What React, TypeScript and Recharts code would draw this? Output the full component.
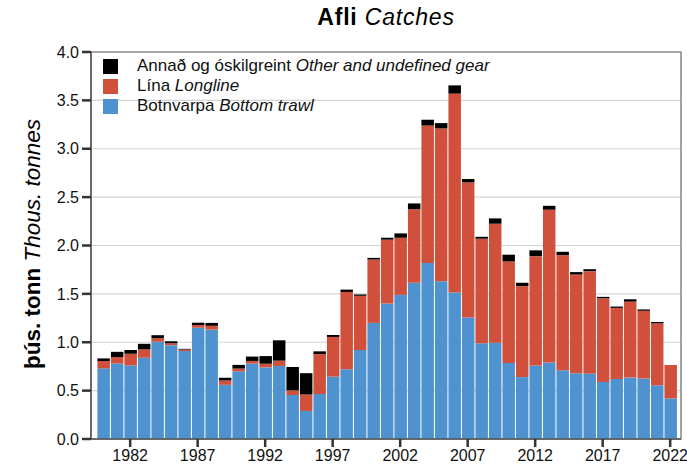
import React from 'react';
import { BarChart, Bar, XAxis, YAxis, CartesianGrid, ReferenceArea } from 'recharts';

const years = [
  1980, 1981, 1982, 1983, 1984, 1985, 1986, 1987, 1988, 1989,
  1990, 1991, 1992, 1993, 1994, 1995, 1996, 1997, 1998, 1999,
  2000, 2001, 2002, 2003, 2004, 2005, 2006, 2007, 2008, 2009,
  2010, 2011, 2012, 2013, 2014, 2015, 2016, 2017, 2018, 2019,
  2020, 2021, 2022,
];

const bottomTrawl = [
  0.73, 0.78, 0.76, 0.84, 1.005, 0.97, 0.91, 1.15, 1.13, 0.56,
  0.7, 0.78, 0.74, 0.755, 0.455, 0.29, 0.465, 0.645, 0.72, 0.92,
  1.2, 1.4, 1.49, 1.615, 1.82, 1.63, 1.515, 1.257, 0.99, 0.995,
  0.785, 0.64, 0.76, 0.79, 0.71, 0.68, 0.675, 0.59, 0.62, 0.635,
  0.625, 0.555, 0.42,
];

const longline = [
  0.076, 0.066, 0.12, 0.086, 0.037, 0.02, 0.015, 0.028, 0.04, 0.045,
  0.028, 0.027, 0.038, 0.055, 0.048, 0.17, 0.413, 0.41, 0.8, 0.56,
  0.655, 0.66, 0.59, 0.76, 1.42, 1.58, 2.055, 1.395, 1.08, 1.23,
  1.05, 0.94, 1.13, 1.58, 1.19, 1.02, 1.06, 0.865, 0.735, 0.785,
  0.7, 0.64, 0.345,
];

const other = [
  0.027, 0.055, 0.04, 0.058, 0.031, 0.02, 0.007, 0.024, 0.03, 0.028,
  0.038, 0.045, 0.079, 0.21, 0.241, 0.22, 0.028, 0.02, 0.024, 0.014,
  0.017, 0.02, 0.045, 0.06, 0.06, 0.055, 0.085, 0.035, 0.02, 0.055,
  0.07, 0.035, 0.06, 0.04, 0.035, 0.025, 0.02, 0.014, 0.014, 0.024,
  0.014, 0.014, 0,
];

const yTicks = [0, 0.5, 1, 1.5, 2, 2.5, 3, 3.5, 4];
const xTicks = [1982, 1987, 1992, 1997, 2002, 2007, 2012, 2017, 2022];

const BLUE = '#4e93cf';
const RED = '#d1503b';
const BLACK = '#000000';

const data = years.map((year, i) => ({
  year,
  trawl: bottomTrawl[i],
  longline: longline[i],
  other: other[i],
}));

const FONT = '"Liberation Sans", Arial, Helvetica, sans-serif';

const legendItems = [
  { color: BLACK, is: 'Annað og óskilgreint', en: 'Other and undefined gear' },
  { color: RED, is: 'Lína', en: 'Longline' },
  { color: BLUE, is: 'Botnvarpa', en: 'Bottom trawl' },
];

export default function App() {
  return (
    <div style={{ position: 'absolute', left: 0, top: 0, width: 687, height: 470, fontFamily: FONT, background: '#fff' }}>
      <BarChart width={687} height={470} data={data} margin={{ top: 52, right: 6, bottom: 6, left: 31 }}>
        <CartesianGrid vertical={false} stroke="#d4d4d4" strokeWidth={1.2} />
        <XAxis
          dataKey="year"
          type="number"
          domain={[1979.1, 2022.8]}
          ticks={xTicks}
          interval={0}
          allowDataOverflow
          height={25}
          tickSize={8}
          tickMargin={3}
          axisLine={{ stroke: '#555', strokeWidth: 1.5 }}
          tickLine={{ stroke: '#333', strokeWidth: 2.5 }}
          tick={{ fill: '#111', fontSize: 16, fontFamily: FONT }}
        />
        <YAxis
          type="number"
          domain={[0, 4]}
          ticks={yTicks}
          interval={0}
          width={60}
          tickSize={9}
          tickMargin={3}
          tickFormatter={(v: number) => v.toFixed(1)}
          axisLine={{ stroke: '#555', strokeWidth: 1.5 }}
          tickLine={{ stroke: '#333', strokeWidth: 2.5 }}
          tick={{ fill: '#111', fontSize: 16, fontFamily: FONT }}
        />
        <Bar dataKey="trawl" stackId="a" fill={BLUE} barSize={12.5} isAnimationActive={false} />
        <Bar dataKey="longline" stackId="a" fill={RED} barSize={12.5} isAnimationActive={false} />
        <Bar dataKey="other" stackId="a" fill={BLACK} barSize={12.5} isAnimationActive={false} />
        <ReferenceArea x1={1979.1} x2={2022.8} y1={0} y2={4} fill="none" stroke="#666" strokeWidth={1.2} ifOverflow="visible" />
      </BarChart>

      <div style={{ position: 'absolute', left: 91, width: 590, top: 4, textAlign: 'center', fontSize: 23, letterSpacing: 0.8, color: '#000', whiteSpace: 'nowrap' }}>
        <span style={{ fontWeight: 'bold' }}>Afli</span>{' '}
        <span style={{ fontStyle: 'italic' }}>Catches</span>
      </div>

      <div
        style={{
          position: 'absolute',
          left: 33,
          top: 244,
          transform: 'translate(-50%, -50%) rotate(-90deg)',
          fontSize: 22.5,
          color: '#000',
          whiteSpace: 'nowrap',
        }}
      >
        <span style={{ fontWeight: 'bold' }}>þús. tonn</span>{' '}
        <span style={{ fontStyle: 'italic' }}>Thous. tonnes</span>
      </div>

      <div style={{ position: 'absolute', left: 103, top: 56, fontSize: 17, color: '#111', lineHeight: '20px' }}>
        {legendItems.map((it) => (
          <div key={it.en} style={{ display: 'flex', alignItems: 'center', height: 20 }}>
            <div style={{ width: 15, height: 15, background: it.color, marginRight: 19 }} />
            <span style={{ whiteSpace: 'nowrap' }}>
              {it.is} <i>{it.en}</i>
            </span>
          </div>
        ))}
      </div>
    </div>
  );
}
